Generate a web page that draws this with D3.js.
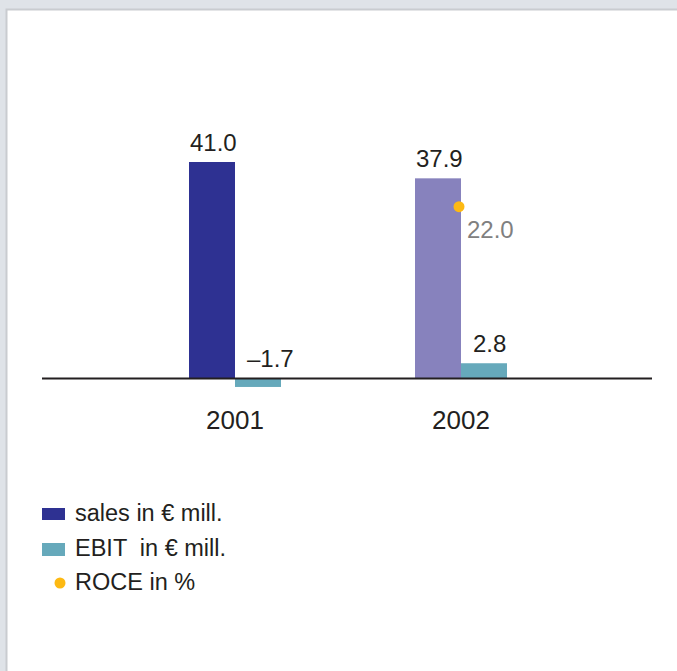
<!DOCTYPE html>
<html>
<head>
<meta charset="utf-8">
<script src="https://cdn.jsdelivr.net/npm/d3@7"></script>
<style>
  html, body { margin: 0; padding: 0; background: #dfe3e8; }
  svg { display: block; }
  text { font-family: "Liberation Sans", Arial, sans-serif; fill: #231f20; }
</style>
</head>
<body>
<div id="chart"></div>
<script>
// data
var years = ["2001", "2002"];
var sales = [41.0, 37.9];
var ebit = [-1.7, 2.8];
var roce = [null, 22.0];
var salesLabels = ["41.0", "37.9"];
var ebitLabels = ["\u20131.7", "2.8"];
var roceLabels = [null, "22.0"];

var width = 677, height = 671;

var salesColor = { "2001": "#2e3192", "2002": "#8782bd" };
var ebitColor = "#66a9bb";
var roceColor = "#fdb913";

var svg = d3.select("#chart")
  .append("svg")
  .attr("width", width)
  .attr("height", height);

// white panel
svg.append("rect")
  .attr("x", 6.5).attr("y", 9.5)
  .attr("width", width).attr("height", height)
  .attr("fill", "#ffffff")
  .attr("stroke", "#c9ccd0")
  .attr("stroke-width", 2);

// scales
var x = d3.scalePoint().domain(years).range([235, 461]);
var inner = d3.scaleBand().domain(["sales", "ebit"]).range([-46, 46]).padding(0);
var y = d3.scaleLinear().domain([0, 41]).range([378, 162]);
var y2 = d3.scaleLinear().domain([0, 28]).range([378, 160]);

var rows = years.map(function(yr, i) {
  return { year: yr, sales: sales[i], ebit: ebit[i], roce: roce[i],
           sl: salesLabels[i], el: ebitLabels[i], rl: roceLabels[i] };
});

// sales bars
svg.selectAll(".sales")
  .data(rows).enter()
  .append("rect")
  .attr("class", "sales")
  .attr("x", function(d) { return x(d.year) + inner("sales"); })
  .attr("y", function(d) { return y(d.sales); })
  .attr("width", inner.bandwidth())
  .attr("height", function(d) { return y(0) - y(d.sales); })
  .attr("fill", function(d) { return salesColor[d.year]; });

// ebit bars
svg.selectAll(".ebit")
  .data(rows).enter()
  .append("rect")
  .attr("class", "ebit")
  .attr("x", function(d) { return x(d.year) + inner("ebit"); })
  .attr("y", function(d) { return y(Math.max(0, d.ebit)); })
  .attr("width", inner.bandwidth())
  .attr("height", function(d) { return Math.abs(y(d.ebit) - y(0)); })
  .attr("fill", ebitColor);

// baseline
svg.append("line")
  .attr("x1", 42).attr("x2", 652)
  .attr("y1", y(0) + 0.5).attr("y2", y(0) + 0.5)
  .attr("stroke", "#231f20")
  .attr("stroke-width", 2);

// value labels
svg.selectAll(".slabel")
  .data(rows).enter()
  .append("text")
  .attr("x", function(d) { return x(d.year) + inner("sales") + 1; })
  .attr("y", function(d) { return y(d.sales) - 11; })
  .attr("font-size", 24)
  .text(function(d) { return d.sl; });

svg.selectAll(".elabel")
  .data(rows).enter()
  .append("text")
  .attr("x", function(d) { return x(d.year) + inner("ebit") + 12; })
  .attr("y", function(d) { return y(Math.max(0, d.ebit)) - 11; })
  .attr("font-size", 24)
  .text(function(d) { return d.el; });

// roce point
var rp = rows.filter(function(d) { return d.roce != null; });
svg.selectAll(".roce")
  .data(rp).enter()
  .append("circle")
  .attr("cx", function(d) { return x(d.year) - 2; })
  .attr("cy", function(d) { return y2(d.roce); })
  .attr("r", 5.5)
  .attr("fill", roceColor);

svg.selectAll(".rlabel")
  .data(rp).enter()
  .append("text")
  .attr("x", function(d) { return x(d.year) + 6; })
  .attr("y", function(d) { return y2(d.roce) + 31; })
  .attr("font-size", 24)
  .style("fill", "#808080")
  .text(function(d) { return d.rl; });

// year labels
svg.selectAll(".year")
  .data(years).enter()
  .append("text")
  .attr("x", function(d) { return x(d); })
  .attr("y", 429)
  .attr("text-anchor", "middle")
  .attr("font-size", 26)
  .text(function(d) { return d; });

// legend
var legend = svg.append("g");
legend.append("rect").attr("x", 42).attr("y", 508).attr("width", 23).attr("height", 12).attr("fill", salesColor["2001"]);
legend.append("rect").attr("x", 42).attr("y", 543).attr("width", 23).attr("height", 13).attr("fill", ebitColor);
legend.append("circle").attr("cx", 60).attr("cy", 583).attr("r", 5.5).attr("fill", roceColor);
legend.append("text").attr("x", 75).attr("y", 521).attr("font-size", 23.5).text("sales in \u20ac mill.");
legend.append("text").attr("x", 75).attr("y", 556).attr("font-size", 23.5).style("white-space", "pre").text("EBIT  in \u20ac mill.");
legend.append("text").attr("x", 75).attr("y", 590).attr("font-size", 23.5).text("ROCE in %");
</script>
</body>
</html>
